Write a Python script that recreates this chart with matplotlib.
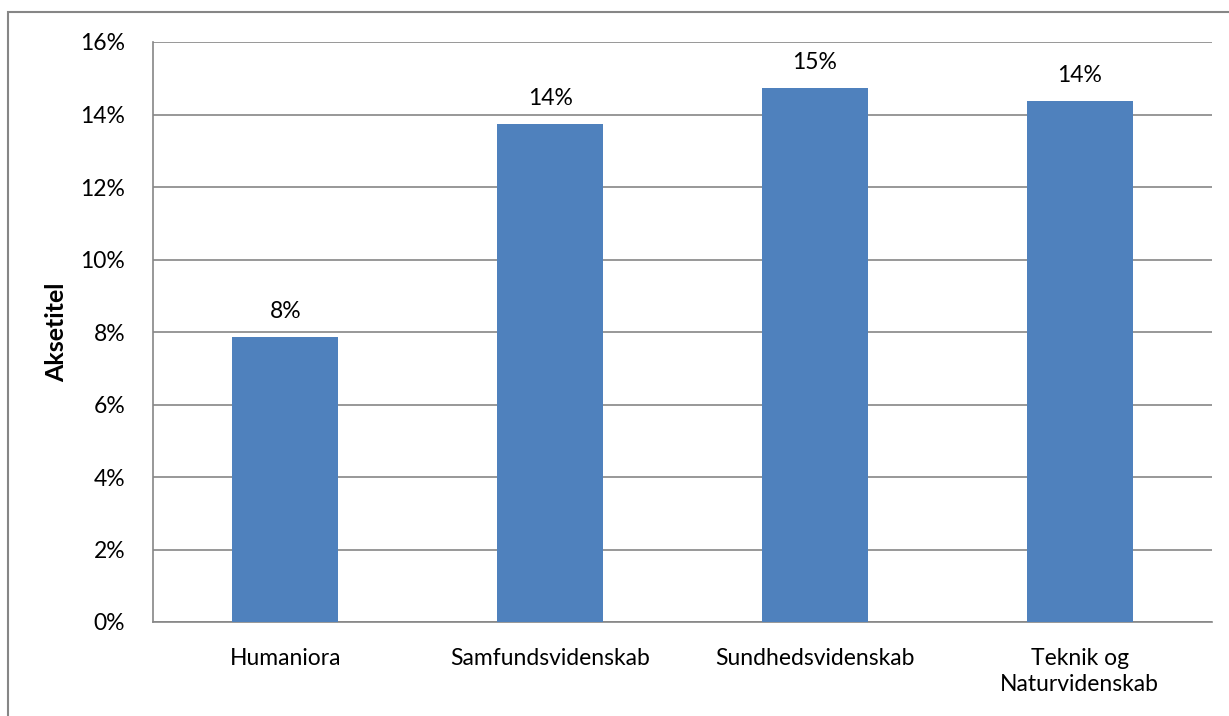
import matplotlib
matplotlib.use("Agg")
import matplotlib.pyplot as plt
from matplotlib.patches import Rectangle

categories = ["Humaniora", "Samfundsvidenskab", "Sundhedsvidenskab", "Teknik og\nNaturvidenskab"]
values = [7.86, 13.74, 14.73, 14.37]
labels = ["8%", "14%", "15%", "14%"]
yticks = [0, 2, 4, 6, 8, 10, 12, 14, 16]
ytick_labels = [f"{v}%" for v in yticks]

plt.rcParams['font.family'] = ['Lato', 'DejaVu Sans']
W, H = 1229, 716
fig = plt.figure(figsize=(W / 100, H / 100), dpi=100)

# outer frame
fig.patches.append(Rectangle((8 / W, -0.1), 1.2, 1 - 12 / H + 0.1, transform=fig.transFigure,
                             fill=False, edgecolor="#868686", linewidth=1.5, zorder=0))

ax = fig.add_axes([153 / W, 1 - 622 / H, (1212 - 153) / W, (622 - 42) / H])
x = list(range(len(categories)))
ax.bar(x, values, width=0.4, color="#4F81BD", zorder=3)
ax.set_xlim(-0.5, len(categories) - 0.5)
ax.set_ylim(0, 16)
ax.set_yticks(yticks)
ax.set_yticklabels(ytick_labels, fontsize=16.5)
ax.set_xticks(x)
ax.set_xticklabels(categories, fontsize=16.5, linespacing=1.25)
ax.tick_params(axis="both", length=0, colors="black")
ax.tick_params(axis="y", pad=20)
ax.tick_params(axis="x", pad=19)
ax.yaxis.grid(True, color="#868686", linewidth=1.2, zorder=0)
ax.set_axisbelow(True)
for s in ["top", "right"]:
    ax.spines[s].set_visible(False)
for s in ["left", "bottom"]:
    ax.spines[s].set_color("#868686")
    ax.spines[s].set_linewidth(1.2)

for xi, v, lab in zip(x, values, labels):
    ax.annotate(lab, (xi, v), xytext=(0, 11), textcoords="offset points",
                ha="center", va="bottom", fontsize=16.5)

ax.set_ylabel("Aksetitel", fontsize=18, fontweight="bold")
ax.yaxis.set_label_coords((68 - 153) / (1212 - 153), 0.5)

fig.savefig("out.png", dpi=100)
